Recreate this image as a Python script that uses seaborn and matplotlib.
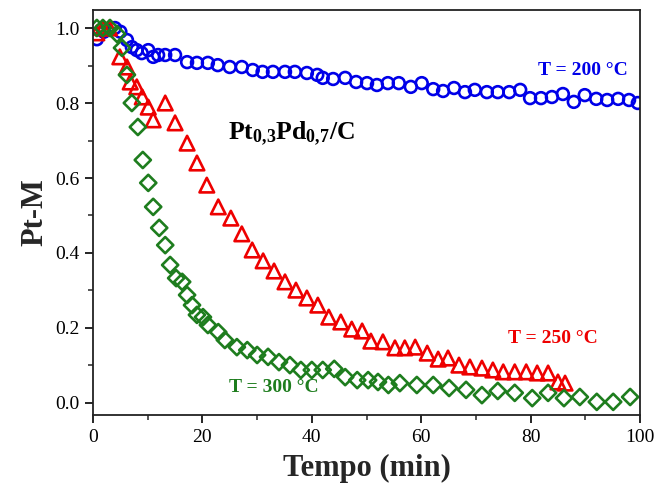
import matplotlib
matplotlib.use("Agg")
import matplotlib.pyplot as plt
import seaborn as sns
import pandas as pd
from matplotlib.ticker import MultipleLocator

# Fraction of Pt-M vs time at three temperatures
t_200 = [0.7, 2.0, 4.0, 5.0, 6.2, 7.1, 8.0, 8.9, 10.1, 11.0, 11.9, 13.2, 15.0, 17.2, 19.0,
         21.0, 22.8, 25.0, 27.2, 29.2, 31.0, 32.9, 35.1, 36.9, 39.1, 41.0, 42.0, 43.9,
         46.1, 48.1, 50.1, 51.9, 53.9, 55.9, 58.1, 60.1, 62.2, 64.0, 66.0, 68.0, 69.8,
         72.0, 74.0, 76.1, 78.1, 79.9, 81.9, 83.9, 85.9, 87.9, 89.9, 92.0, 94.0, 96.0,
         98.0, 99.6]
pm_200 = [0.970, 0.990, 1.000, 0.990, 0.968, 0.949, 0.941, 0.933, 0.941, 0.923, 0.928,
          0.928, 0.928, 0.909, 0.907, 0.907, 0.901, 0.896, 0.896, 0.888, 0.883, 0.883,
          0.883, 0.883, 0.880, 0.875, 0.867, 0.864, 0.867, 0.856, 0.853, 0.848, 0.853,
          0.853, 0.843, 0.853, 0.837, 0.832, 0.840, 0.829, 0.835, 0.829, 0.829, 0.829,
          0.835, 0.813, 0.813, 0.816, 0.824, 0.803, 0.821, 0.811, 0.808, 0.811, 0.808,
          0.800]

t_250 = [0.7, 1.8, 3.0, 4.9, 6.2, 6.8, 8.0, 9.0, 10.1, 11.0, 13.2, 15.0, 17.2, 19.0, 20.8,
         22.9, 25.2, 27.2, 29.1, 31.1, 33.1, 35.1, 37.1, 39.1, 41.1, 43.1, 45.3, 47.3,
         49.2, 50.8, 53.0, 55.2, 57.0, 58.9, 61.1, 63.1, 64.9, 66.9, 68.9, 71.1, 73.1,
         75.0, 77.1, 79.2, 81.2, 83.2, 85.0, 86.3]
pm_250 = [0.987, 1.000, 1.000, 0.923, 0.896, 0.856, 0.843, 0.816, 0.789, 0.755, 0.800,
          0.747, 0.693, 0.640, 0.581, 0.523, 0.493, 0.451, 0.408, 0.379, 0.352, 0.323,
          0.301, 0.280, 0.261, 0.229, 0.216, 0.197, 0.192, 0.165, 0.163, 0.147, 0.147,
          0.149, 0.133, 0.117, 0.120, 0.101, 0.096, 0.093, 0.088, 0.083, 0.083, 0.083,
          0.080, 0.080, 0.056, 0.053]

t_300 = [0.7, 1.8, 3.1, 4.4, 5.3, 6.2, 7.1, 8.2, 9.1, 10.1, 11.0, 12.1, 13.2, 14.1, 15.2,
         16.3, 17.2, 18.1, 19.0, 20.1, 21.0, 22.9, 24.1, 26.3, 28.2, 30.0, 32.0, 34.0,
         36.0, 38.0, 40.0, 42.0, 44.1, 46.1, 48.3, 50.3, 52.1, 54.0, 56.1, 59.2, 62.2,
         65.1, 68.2, 71.1, 74.0, 77.1, 80.3, 83.2, 86.1, 89.0, 92.1, 95.1, 98.2]
pm_300 = [1.000, 1.000, 1.000, 0.984, 0.947, 0.875, 0.800, 0.736, 0.648, 0.587, 0.523,
          0.467, 0.421, 0.368, 0.333, 0.323, 0.288, 0.261, 0.235, 0.229, 0.208, 0.189,
          0.168, 0.149, 0.141, 0.128, 0.123, 0.109, 0.101, 0.088, 0.088, 0.088, 0.091,
          0.069, 0.061, 0.061, 0.056, 0.048, 0.053, 0.048, 0.048, 0.040, 0.035, 0.021,
          0.032, 0.027, 0.013, 0.027, 0.013, 0.016, 0.003, 0.003, 0.016]

series_labels = ["T = 200 °C", "T = 250 °C", "T = 300 °C"]
series_colors = ["#0000e8", "#ee0000", "#1e7d1e"]
series_markers = ["o", "^", "D"]
series_sizes = [72, 110, 68]
label_pos = [(89.5, 0.888), (84.0, 0.171), (33.0, 0.040)]

sns.set_theme(style="white")
plt.rcParams["font.family"] = ["Liberation Serif", "DejaVu Serif"]
plt.rcParams["mathtext.fontset"] = "custom"
plt.rcParams["mathtext.rm"] = "Liberation Serif"
plt.rcParams["mathtext.bf"] = "Liberation Serif:bold"

fig = plt.figure(figsize=(6.56, 4.88), dpi=100)
ax = fig.add_axes([0.1418, 0.1496, 0.8338, 0.8299])

frames = [
    pd.DataFrame({"Tempo": t_200, "PtM": pm_200}),
    pd.DataFrame({"Tempo": t_250, "PtM": pm_250}),
    pd.DataFrame({"Tempo": t_300, "PtM": pm_300}),
]

for df, col, mk, sz in zip(frames, series_colors, series_markers, series_sizes):
    n_before = len(ax.collections)
    sns.scatterplot(data=df, x="Tempo", y="PtM", marker=mk, s=sz, color=col, ax=ax,
                    legend=False)
    coll = ax.collections[n_before]
    coll.set_facecolor("none")
    coll.set_edgecolor(col)
    coll.set_linewidth(1.9)

for lab, col, (lx, ly) in zip(series_labels, series_colors, label_pos):
    ax.text(lx, ly, lab, color=col, fontsize=14, fontweight="bold",
            ha="center", va="center")

ax.text(24.6, 0.718, r"$\mathbf{Pt_{0{,}3}Pd_{0{,}7}/C}$", fontsize=18.5, color="black",
        ha="left", va="center")

ax.set_xlim(0, 100)
ax.set_ylim(-0.032, 1.048)
ax.xaxis.set_major_locator(MultipleLocator(20))
ax.xaxis.set_minor_locator(MultipleLocator(10))
ax.yaxis.set_major_locator(MultipleLocator(0.2))
ax.yaxis.set_minor_locator(MultipleLocator(0.1))
ax.yaxis.set_major_formatter(matplotlib.ticker.FormatStrFormatter("%.1f"))

ax.tick_params(which="major", direction="out", length=6, width=1.2, labelsize=14,
               colors="black", left=True, bottom=True, top=False, right=False, pad=4)
ax.tick_params(which="minor", direction="out", length=3.5, width=1.1,
               left=True, bottom=True, top=False, right=False)
for sp in ax.spines.values():
    sp.set_color("#222222")
    sp.set_linewidth(1.3)

ax.set_xlabel("Tempo (min)", fontsize=22, fontweight="bold", labelpad=6)
ax.set_ylabel("Pt-M", fontsize=22, fontweight="bold", labelpad=4)

fig.savefig("out.png", dpi=100, facecolor="white")
